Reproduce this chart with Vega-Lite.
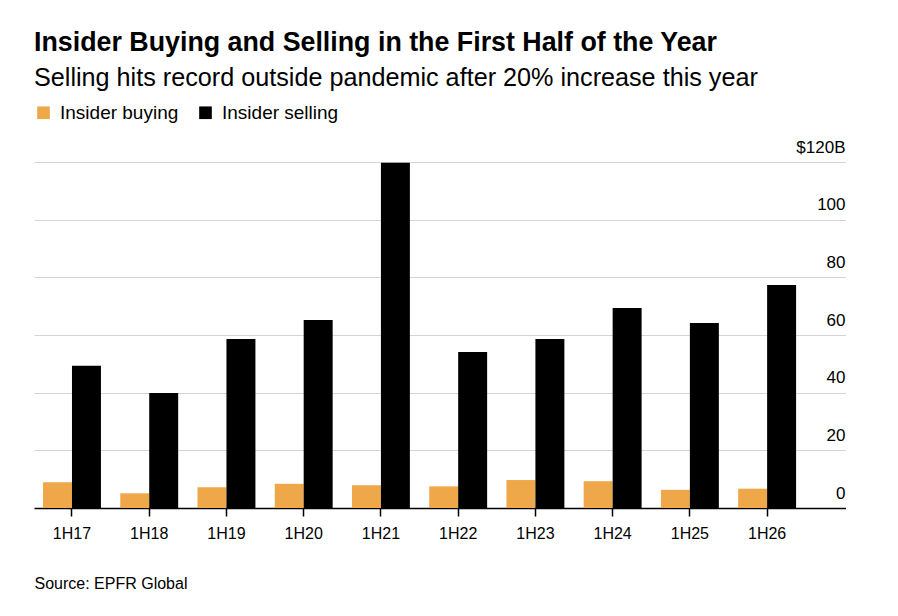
{
  "$schema": "https://vega.github.io/schema/vega-lite/v6.json",
  "width": 812,
  "height": 346,
  "padding": {"left": 34, "top": 30, "right": 0, "bottom": 0},
  "background": "white",
  "config": {
    "font": "Liberation Sans",
    "view": {"stroke": null},
    "axis": {"labelColor": "#000000", "titleColor": "#000000"}
  },
  "title": {
    "text": "Insider Buying and Selling in the First Half of the Year",
    "subtitle": "Selling hits record outside pandemic after 20% increase this year",
    "anchor": "start",
    "fontSize": 26.8,
    "fontWeight": "bold",
    "color": "#000000",
    "subtitleFontSize": 25.2,
    "subtitleColor": "#000000",
    "subtitlePadding": 9,
    "offset": 12
  },
  "data": {
    "values": [
      {"period": "1H17", "type": "Insider buying", "value": 8.9},
      {"period": "1H17", "type": "Insider selling", "value": 49.3},
      {"period": "1H18", "type": "Insider buying", "value": 5.1},
      {"period": "1H18", "type": "Insider selling", "value": 39.9},
      {"period": "1H19", "type": "Insider buying", "value": 7.2},
      {"period": "1H19", "type": "Insider selling", "value": 58.6},
      {"period": "1H20", "type": "Insider buying", "value": 8.4},
      {"period": "1H20", "type": "Insider selling", "value": 65.2},
      {"period": "1H21", "type": "Insider buying", "value": 7.9},
      {"period": "1H21", "type": "Insider selling", "value": 119.7},
      {"period": "1H22", "type": "Insider buying", "value": 7.5},
      {"period": "1H22", "type": "Insider selling", "value": 54.1},
      {"period": "1H23", "type": "Insider buying", "value": 9.7},
      {"period": "1H23", "type": "Insider selling", "value": 58.6},
      {"period": "1H24", "type": "Insider buying", "value": 9.3},
      {"period": "1H24", "type": "Insider selling", "value": 69.4},
      {"period": "1H25", "type": "Insider buying", "value": 6.3},
      {"period": "1H25", "type": "Insider selling", "value": 64.2},
      {"period": "1H26", "type": "Insider buying", "value": 6.7},
      {"period": "1H26", "type": "Insider selling", "value": 77.3}
    ]
  },
  "mark": {"type": "bar"},
  "encoding": {
    "x": {
      "field": "period",
      "type": "nominal",
      "sort": null,
      "scale": {"paddingInner": 0.25, "paddingOuter": 0.3815, "align": 0.153},
      "axis": {
        "title": "Source: EPFR Global",
        "titleAnchor": "start",
        "titleAlign": "left",
        "titleFontSize": 16,
        "titleFontWeight": "normal",
        "titlePadding": 34,
        "labelAngle": 0,
        "labelFontSize": 16,
        "labelPadding": 9,
        "domainColor": "#000000",
        "domainWidth": 1.5,
        "tickColor": "#000000",
        "tickSize": 8,
        "tickWidth": 1.5,
        "grid": false
      }
    },
    "xOffset": {
      "field": "type",
      "type": "nominal",
      "sort": ["Insider buying", "Insider selling"]
    },
    "y": {
      "field": "value",
      "type": "quantitative",
      "scale": {"domain": [0, 120], "nice": false},
      "axis": {
        "orient": "right",
        "title": null,
        "values": [0, 20, 40, 60, 80, 100, 120],
        "labelExpr": "datum.value == 120 ? '$120B' : datum.label",
        "domain": false,
        "ticks": false,
        "tickSize": 0,
        "grid": true,
        "gridColor": "#d4d4d4",
        "gridWidth": 1.2,
        "labelAlign": "right",
        "labelPadding": -1,
        "labelBaseline": "alphabetic",
        "labelOffset": -10,
        "labelFontSize": 17
      }
    },
    "color": {
      "field": "type",
      "type": "nominal",
      "scale": {"domain": ["Insider buying", "Insider selling"], "range": ["#EEA849", "#000000"]},
      "legend": {
        "orient": "top",
        "direction": "horizontal",
        "title": null,
        "symbolType": "square",
        "symbolSize": 160,
        "symbolStrokeWidth": 0,
        "labelFontSize": 19,
        "labelColor": "#000000",
        "labelOffset": 7,
        "columnPadding": 17,
        "padding": 0,
        "offset": 39
      }
    }
  }
}
